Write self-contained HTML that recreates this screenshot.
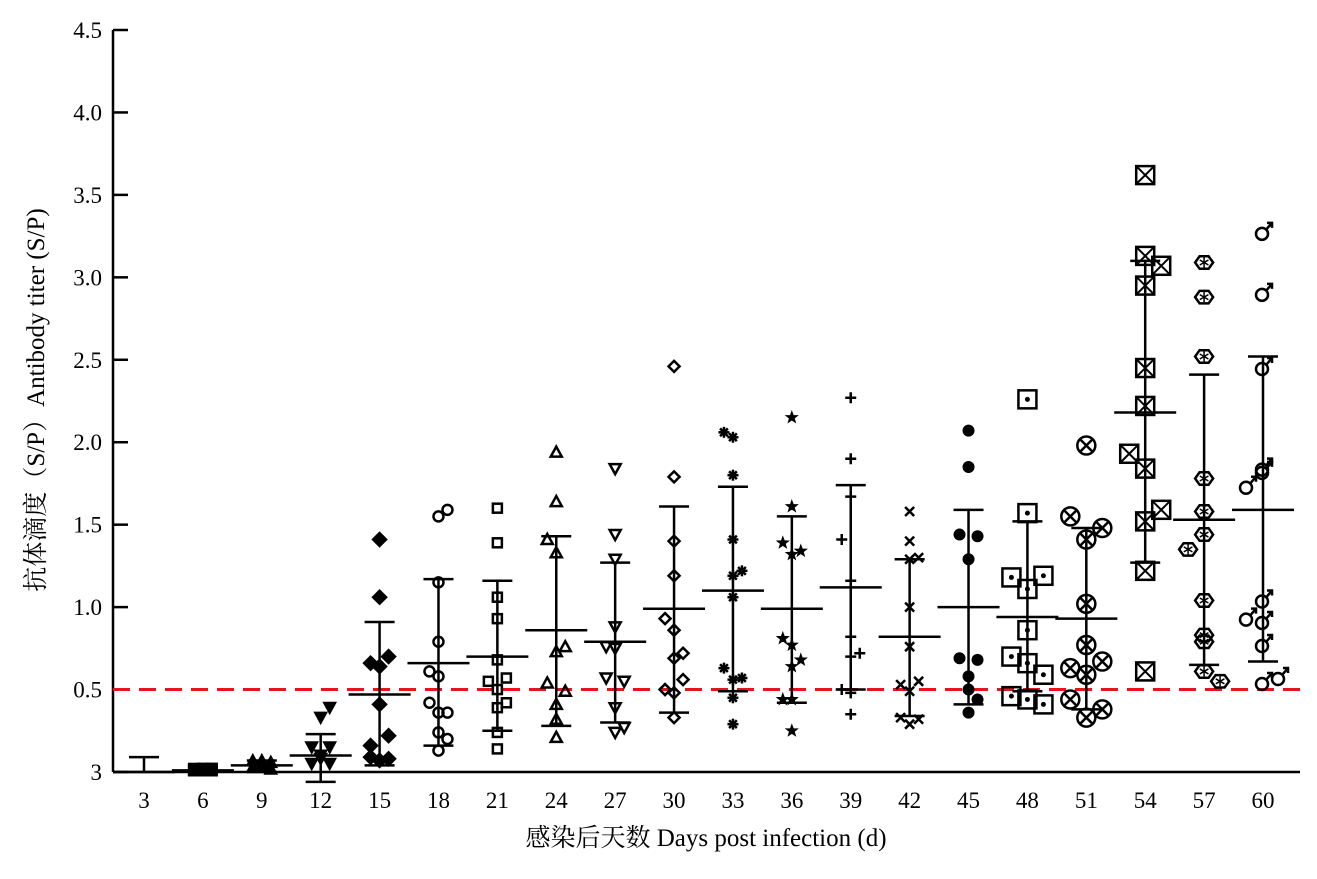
<!DOCTYPE html>
<html><head><meta charset="utf-8"><style>
body{margin:0;background:#fff}
svg text{font-family:"Liberation Serif","Noto Serif CJK SC",serif;fill:#000}
</style></head><body>
<svg id="chart" width="1317" height="874" xmlns="http://www.w3.org/2000/svg">
<g id="axes"></g>
<g id="marks"></g>
<text x="706" y="846" font-size="25" text-anchor="middle">感染后天数 Days post infection (d)</text>
<text transform="translate(44,400) rotate(-90)" font-size="25" text-anchor="middle">抗体滴度（S/P）Antibody titer (S/P)</text>
</svg>
<script>
const categories=[3,6,9,12,15,18,21,24,27,30,33,36,39,42,45,48,51,54,57,60];
const markerTypes=["none","fsquare","ftri","fdtri","fdiamond","circle","square","tri","dtri","diamond","asterisk","star","plus","cross","fcircle","dotsquare","oplus","xsquare","hex","male"];
const means=[0,0.01,0.04,0.10,0.47,0.66,0.70,0.86,0.79,0.99,1.10,0.99,1.12,0.82,1.00,0.94,0.93,2.18,1.53,1.59];
const upper=[0.09,0.04,0.07,0.23,0.91,1.17,1.16,1.43,1.27,1.61,1.73,1.55,1.74,1.29,1.59,1.52,1.48,3.10,2.41,2.52];
const lower=[0,-0.02,0.0,-0.06,0.04,0.16,0.25,0.28,0.30,0.36,0.49,0.42,0.50,0.34,0.41,0.49,0.38,1.27,0.65,0.67];
const pointValues=[
[],
[0.02,0.02,0.02,0.01,0.02,0.02],
[0.07,0.07,0.06,0.03,0.03,0.02,0.04],
[0.39,0.33,0.15,0.15,0.10,0.05,0.05,0.08],
[1.41,1.06,0.66,0.70,0.64,0.41,0.22,0.16,0.09,0.08,0.07],
[1.55,1.59,1.15,0.79,0.61,0.58,0.42,0.36,0.36,0.24,0.20,0.13],
[1.60,1.39,1.06,0.93,0.68,0.57,0.55,0.50,0.42,0.39,0.24,0.14],
[1.94,1.64,1.41,1.33,0.76,0.73,0.54,0.49,0.41,0.32,0.21],
[1.84,1.44,1.29,0.88,0.76,0.75,0.57,0.55,0.39,0.27,0.24],
[2.46,1.79,1.40,1.19,0.93,0.86,0.72,0.69,0.56,0.50,0.48,0.33],
[2.06,2.03,1.80,1.41,1.22,1.19,1.06,0.63,0.57,0.56,0.45,0.29],
[2.15,1.61,1.39,1.34,1.32,0.81,0.77,0.68,0.64,0.44,0.44,0.25],
[2.27,1.90,1.67,1.41,1.16,0.82,0.72,0.70,0.50,0.48,0.35],
[1.58,1.40,1.30,1.29,1.00,0.76,0.55,0.53,0.49,0.33,0.32,0.29],
[2.07,1.85,1.44,1.43,1.29,0.69,0.68,0.58,0.50,0.44,0.36],
[2.26,1.57,1.18,1.19,1.11,0.86,0.70,0.66,0.59,0.46,0.44,0.41],
[1.98,1.55,1.48,1.41,1.02,0.77,0.67,0.63,0.59,0.44,0.38,0.33],
[3.62,3.13,3.07,2.95,2.45,2.22,1.93,1.84,1.59,1.52,1.22,0.61],
[3.09,2.88,2.52,1.78,1.58,1.44,1.35,1.04,0.83,0.79,0.61,0.55],
[3.27,2.90,2.45,1.82,1.84,1.73,1.04,0.91,0.93,0.77,0.57,0.54]
];
const pointSides=[
[],
[-1,0,1,-1,0,1],
[-1,0,1,-1,0,1,0],
[1,0,-1,1,0,-1,1,0],
[0,0,-1,1,0,0,1,-1,-1,1,0],
[0,1,0,0,-1,0,-1,1,0,0,1,0],
[0,0,0,0,0,1,-1,0,1,0,0,0],
[0,0,-1,0,1,0,-1,1,0,0,0],
[0,0,0,0,-1,0,-1,1,0,1,0],
[0,0,0,0,-1,0,1,0,1,-1,0,0],
[-1,0,0,0,1,0,0,-1,1,0,0,0],
[0,0,-1,1,0,-1,0,1,0,-1,0,0],
[0,0,0,-1,0,0,1,0,-1,0,0],
[0,0,1,0,0,0,1,-1,0,-1,1,0],
[0,0,-1,1,0,-1,1,0,0,1,0],
[0,0,-1,1,0,0,-1,0,1,-1,0,1],
[0,-1,1,0,0,0,1,-1,0,-1,1,0],
[0,0,1,0,0,0,-1,0,1,0,0,0],
[0,0,0,0,0,0,-1,0,0,0,0,1],
[0,0,0,0,0,-1,0,0,-1,0,1,0],
[0,0,0,-1,1,0,0,-1,1,0,1,0]
];
const yTicks=[0,0.5,1.0,1.5,2.0,2.5,3.0,3.5,4.0,4.5];
const yTickLabels=["3","0.5","1.0","1.5","2.0","2.5","3.0","3.5","4.0","4.5"];
const cutoff=[0.5];

const NS="http://www.w3.org/2000/svg";
const X0=113,X1=1300,Y0=772,Y1=30,YMAX=4.5;
function yScale(v){return Y0-(v/YMAX)*(Y0-Y1);}
function xScale(i){return 144+i*(1263-144)/(categories.length-1);}
function el(tag,attrs,parent){const e=document.createElementNS(NS,tag);for(const k in attrs)e.setAttribute(k,attrs[k]);parent.appendChild(e);return e;}
const axes=document.getElementById('axes'),marks=document.getElementById('marks');

let a=el('line',{x1:X0,y1:Y1,x2:X0,y2:Y0,stroke:'#000','stroke-width':2.5},axes);


a=el('line',{x1:X0,y1:Y0,x2:X1,y2:Y0,stroke:'#000','stroke-width':2.5},axes);


yTicks.forEach((t,i)=>{const y=yScale(t);
 const tk=el('line',{x1:X0,y1:y,x2:X0+15,y2:y,stroke:'#000','stroke-width':2.5},axes);
 
 
 const tx=el('text',{x:102,y:y+8,'font-size':23,'text-anchor':'end'},axes);tx.textContent=yTickLabels[i];
 
 
});
categories.forEach((c,i)=>{const tx=el('text',{x:xScale(i),y:808,'font-size':23,'text-anchor':'middle'},axes);tx.textContent=c;
 
 
});
const cl=el('line',{x1:X0,y1:yScale(cutoff[0]),x2:X1,y2:yScale(cutoff[0]),stroke:'#e8141c','stroke-width':3,'stroke-dasharray':'17 9'},axes);



function marker(type,x,y,big,g){
 const s=big?9:5.5, sw=2.5, st={stroke:'#000','stroke-width':sw,fill:'none'};
 const F={fill:'#000',stroke:'#000','stroke-width':1};
 switch(type){
 case 'fsquare':el('rect',Object.assign({x:x-s,y:y-s,width:2*s,height:2*s},F),g);break;
 case 'ftri':el('polygon',Object.assign({points:`${x},${y-s-1} ${x-s-1},${y+s} ${x+s+1},${y+s}`},F),g);break;
 case 'fdtri':el('polygon',Object.assign({points:`${x},${y+s+1} ${x-s-1},${y-s} ${x+s+1},${y-s}`},F),g);break;
 case 'fdiamond':el('polygon',Object.assign({points:`${x},${y-s-2} ${x+s+2},${y} ${x},${y+s+2} ${x-s-2},${y}`},F),g);break;
 case 'circle':el('circle',Object.assign({cx:x,cy:y,r:s-0.5},st),g);break;
 case 'square':el('rect',Object.assign({x:x-s+1,y:y-s+1,width:2*s-2,height:2*s-2},st),g);break;
 case 'tri':el('polygon',Object.assign({points:`${x},${y-s} ${x-s},${y+s-1} ${x+s},${y+s-1}`},st),g);break;
 case 'dtri':el('polygon',Object.assign({points:`${x},${y+s} ${x-s},${y-s+1} ${x+s},${y-s+1}`},st),g);break;
 case 'diamond':el('polygon',Object.assign({points:`${x},${y-s} ${x+s},${y} ${x},${y+s} ${x-s},${y}`},st),g);break;
 case 'asterisk':for(let k=0;k<4;k++){const an=k*Math.PI/4;el('line',{x1:x-s*Math.cos(an),y1:y-s*Math.sin(an),x2:x+s*Math.cos(an),y2:y+s*Math.sin(an),stroke:'#000','stroke-width':2.5},g);}break;
 case 'star':{let p=[];for(let k=0;k<10;k++){const r=k%2?s*0.45:s+0.5,an=-Math.PI/2+k*Math.PI/5;p.push((x+r*Math.cos(an)).toFixed(1)+','+(y+r*Math.sin(an)).toFixed(1));}el('polygon',Object.assign({points:p.join(' ')},F),g);}break;
 case 'plus':el('path',{d:`M${x-s},${y}H${x+s}M${x},${y-s}V${y+s}`,stroke:'#000','stroke-width':2.5},g);break;
 case 'cross':el('path',{d:`M${x-s+1},${y-s+1}L${x+s-1},${y+s-1}M${x-s+1},${y+s-1}L${x+s-1},${y-s+1}`,stroke:'#000','stroke-width':2.5},g);break;
 case 'fcircle':el('circle',Object.assign({cx:x,cy:y,r:s},F),g);break;
 case 'dotsquare':el('rect',Object.assign({x:x-s,y:y-s,width:2*s,height:2*s},st),g);el('circle',{cx:x,cy:y,r:2.5,fill:'#000'},g);break;
 case 'oplus':el('circle',Object.assign({cx:x,cy:y,r:s},st),g);el('path',{d:`M${x-s*0.65},${y-s*0.65}L${x+s*0.65},${y+s*0.65}M${x-s*0.65},${y+s*0.65}L${x+s*0.65},${y-s*0.65}`,stroke:'#000','stroke-width':2.5},g);break;
 case 'xsquare':el('rect',Object.assign({x:x-s,y:y-s,width:2*s,height:2*s},st),g);el('path',{d:`M${x-s},${y-s}L${x+s},${y+s}M${x-s},${y+s}L${x+s},${y-s}`,stroke:'#000','stroke-width':2},g);break;
 case 'hex':{let p=[];for(let k=0;k<6;k++){const an=k*Math.PI/3;p.push((x+s*Math.cos(an)).toFixed(1)+','+(y+s*0.8*Math.sin(an)).toFixed(1));}el('polygon',Object.assign({points:p.join(' ')},st),g);for(let k=0;k<3;k++){const an=k*Math.PI/3+Math.PI/6;el('line',{x1:x-5*Math.cos(an),y1:y-5*Math.sin(an),x2:x+5*Math.cos(an),y2:y+5*Math.sin(an),stroke:'#000','stroke-width':1.5},g);}}break;
 case 'male':el('circle',Object.assign({cx:x-1,cy:y+1,r:6},st),g);el('path',{d:`M${x+3},${y-3}L${x+9},${y-10}M${x+4},${y-10}H${x+9}V${y-5}`,stroke:'#000','stroke-width':2.5,fill:'none'},g);break;
 }
}
categories.forEach((c,i)=>{
 const x=xScale(i),big=i>=15,off=big?16:9;
 const g=el('g',{},marks);
 
 
 const eb=el('path',{d:`M${x},${yScale(upper[i])}V${yScale(lower[i])}M${x-15},${yScale(upper[i])}H${x+15}M${x-15},${yScale(lower[i])}H${x+15}M${x-31},${yScale(means[i])}H${x+31}`,stroke:'#000','stroke-width':2.5,fill:'none'},g);
 
 
 pointValues[i].forEach((v,j)=>{
  const pg=el('g',{},g);
  
  
  marker(markerTypes[i],x+pointSides[i][j]*off,yScale(v),big,pg);
 });
});
</script>
</body></html>
